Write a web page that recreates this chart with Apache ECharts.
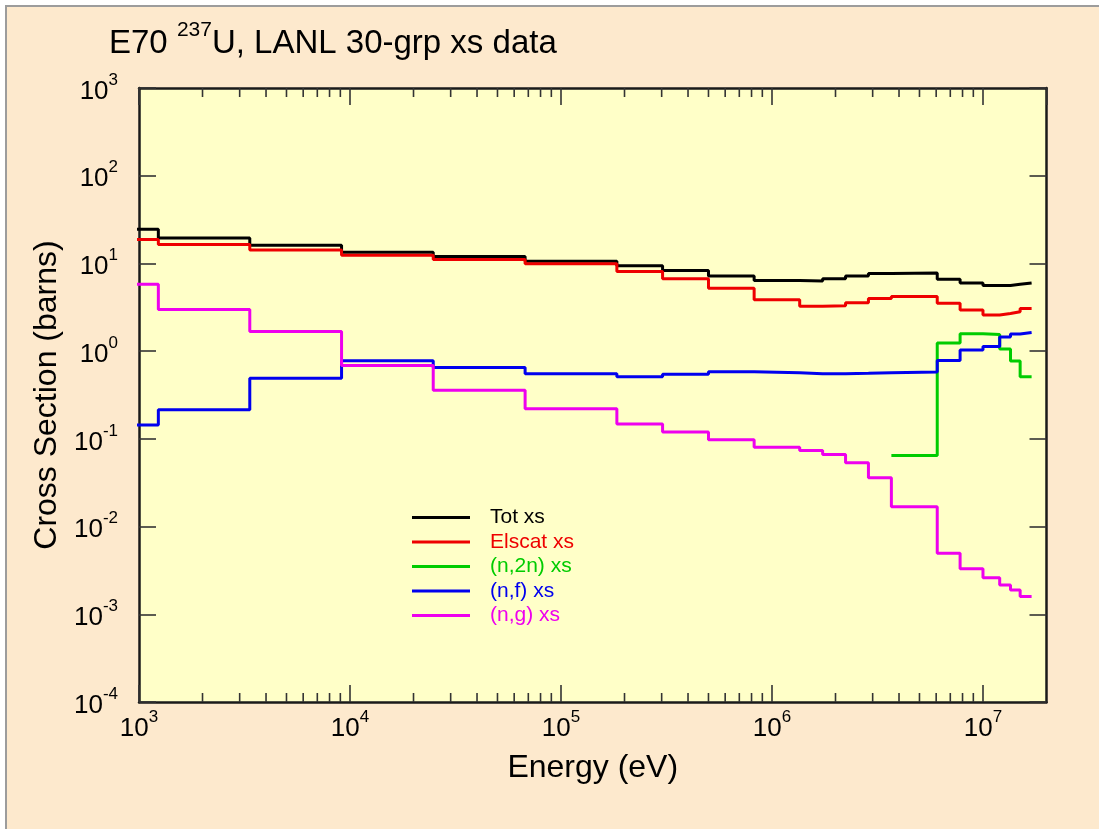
<!DOCTYPE html>
<html>
<head>
<meta charset="utf-8">
<title>E70 237U, LANL 30-grp xs data</title>
<script src="https://cdn.jsdelivr.net/npm/echarts@6/dist/echarts.min.js"></script>
<style>
  html, body { margin: 0; padding: 0; background: #ffffff; }
  #frame {
    position: absolute; left: 5px; top: 5px; right: 0; bottom: 0;
    background: #fde9cd;
    border-left: 2px solid #9c9c9c; border-top: 2px solid #9c9c9c;
  }
  #chart { position: absolute; left: 0; top: 0; width: 1099px; height: 829px; }
</style>
</head>
<body>
<div id="frame"></div>
<div id="chart"></div>
<script>
// LANL 30-group energy boundaries (eV) covering the plotted range, ascending
const groupBounds = [454, 1235, 3350, 9120, 24800, 67600, 184000, 303000, 500000,
  823000, 1353000, 1738000, 2232000, 2865000, 3680000, 6070000, 7790000,
  10000000, 12000000, 13500000, 15000000, 17000000];

// group-averaged cross sections (barns), one value per group above
const totXs = [24.5, 19.5, 16.1, 13.4, 12.0, 10.6, 9.4, 8.3, 7.2, 6.4, 6.3,
  6.7, 7.2, 7.7, 7.8, 6.6, 6.0, 5.6, 5.6, 5.8, 6.0];
const elscatXs = [18.8, 16.4, 14.2, 12.4, 11.1, 9.9, 8.1, 6.7, 5.2, 3.85, 3.26,
  3.3, 3.56, 3.98, 4.2, 3.52, 2.94, 2.58, 2.69, 2.81, 3.07];
const n2nXs = [null, null, null, null, null, null, null, null, null, null, null,
  null, null, null, 0.0646, 1.24, 1.58, 1.55, 1.06, 0.77, 0.51];
const fissionXs = [0.144, 0.215, 0.491, 0.778, 0.653, 0.553, 0.512, 0.544, 0.583,
  0.568, 0.553, 0.553, 0.558, 0.568, 0.577, 0.783, 1.03, 1.13, 1.45, 1.57, 1.63];
const captureXs = [5.78, 2.99, 1.68, 0.688, 0.358, 0.22, 0.148, 0.120, 0.098,
  0.080, 0.0736, 0.0664, 0.0533, 0.036, 0.0168, 0.00495, 0.00331, 0.00261,
  0.00216, 0.00189, 0.00159];

const seriesNames = ['Tot xs', 'Elscat xs', '(n,2n) xs', '(n,f) xs', '(n,g) xs'];
const seriesColors = ['#000000', '#ee0000', '#00cc00', '#0000ee', '#ee00ee'];
const seriesValues = [totXs, elscatXs, n2nXs, fissionXs, captureXs];

// axis ranges
const X_MIN = 1e3, X_MAX = 2e7;
const Y_MIN = 1e-4, Y_MAX = 1e3;

// minor tick positions on the energy axis: 2..9 within each decade
const minorMantissas = [2, 3, 4, 5, 6, 7, 8, 9];
const minorDecades = [1e3, 1e4, 1e5, 1e6, 1e7];

const FONT = '"Liberation Sans", Arial, Helvetica, sans-serif';
const AXIS_COLOR = '#1a1a1a';
const TICK_COLOR = '#333333';

// histogram points: each group starts at its lower bound; the last group
// is closed at its upper bound
function stepPoints(values) {
  const pts = [];
  let last = -1;
  for (let i = 0; i < values.length; i++) {
    if (values[i] == null) continue;
    pts.push([groupBounds[i], values[i]]);
    last = i;
  }
  if (last >= 0) pts.push([groupBounds[last + 1], values[last]]);
  return pts;
}

const minorTicks = [];
minorDecades.forEach(d => minorMantissas.forEach(m => {
  const v = m * d;
  if (v < X_MAX) minorTicks.push([v, Y_MIN]);
}));

function powerLabel(value) {
  const e = Math.round(Math.log10(value));
  if (Math.abs(value - Math.pow(10, e)) > 1e-9 * value) return '';
  return '{b|10}{e|' + (e < 0 ? '-' + (-e) : e) + '}';
}

const labelRich = {
  b: { fontFamily: FONT, fontSize: 26, color: '#000', lineHeight: 33, verticalAlign: 'bottom' },
  e: { fontFamily: FONT, fontSize: 17, color: '#000', lineHeight: 17, verticalAlign: 'top' }
};

const chart = echarts.init(document.getElementById('chart'), null, { renderer: 'canvas' });

const lineSeries = seriesNames.map((name, k) => ({
  name: name,
  type: 'line',
  step: 'end',
  symbol: 'none',
  xAxisIndex: 0,
  yAxisIndex: 0,
  clip: true,
  color: seriesColors[k],
  lineStyle: { color: seriesColors[k], width: 3 },
  data: stepPoints(seriesValues[k]),
  z: 3
}));

const option = {
  animation: false,
  backgroundColor: 'transparent',
  title: {
    text: '{t|E70 }{s|237}{t|U, LANL 30-grp xs data}',
    left: 104,
    top: 15,
    textStyle: {
      fontWeight: 'normal',
      rich: {
        t: { fontFamily: FONT, fontSize: 33, fontWeight: 'normal', color: '#000', lineHeight: 40, verticalAlign: 'bottom' },
        s: { fontFamily: FONT, fontSize: 21, fontWeight: 'normal', color: '#000', lineHeight: 21, verticalAlign: 'top' }
      }
    }
  },
  grid: {
    left: 139, top: 88, right: 52.5, bottom: 127,
    show: true, backgroundColor: '#ffffc8', borderWidth: 0,
    containLabel: false
  },
  legend: {
    orient: 'vertical',
    left: 412,
    top: 507,
    padding: 0,
    icon: 'rect',
    itemWidth: 58,
    itemHeight: 3,
    itemGap: 3.5,
    selectedMode: false,
    textStyle: { fontFamily: FONT, fontSize: 21, lineHeight: 21, padding: [0, 0, 0, 15] },
    data: seriesNames.map((n, k) => ({ name: n, textStyle: { color: seriesColors[k] } }))
  },
  xAxis: [
    {
      type: 'log', logBase: 10, min: X_MIN, max: X_MAX, position: 'bottom',
      name: 'Energy (eV)', nameLocation: 'middle', nameGap: 50,
      nameTextStyle: { fontFamily: FONT, fontSize: 32, color: '#000' },
      axisLine: { show: true, onZero: false, lineStyle: { color: AXIS_COLOR, width: 2.5 } },
      axisTick: { show: true, inside: true, length: 17, lineStyle: { color: TICK_COLOR, width: 1.6 } },
      axisLabel: {
        show: true, margin: 7, formatter: function (v, i) {
          const s = powerLabel(v);
          return (i === 0 && s) ? s.replace('{b|', '{b0|') : s;
        },
        rich: Object.assign({ b0: Object.assign({}, labelRich.b, { padding: [0, 0, 0, 22] }) }, labelRich),
        showMaxLabel: false
      },
      splitLine: { show: false }
    },
    {
      type: 'log', logBase: 10, min: X_MIN, max: X_MAX, position: 'top',
      axisLine: { show: true, onZero: false, lineStyle: { color: AXIS_COLOR, width: 2.5 } },
      axisTick: { show: true, inside: true, length: 17, lineStyle: { color: TICK_COLOR, width: 1.6 } },
      axisLabel: { show: false },
      splitLine: { show: false }
    }
  ],
  yAxis: [
    {
      type: 'log', logBase: 10, min: Y_MIN, max: Y_MAX, position: 'left',
      name: 'Cross Section (barns)', nameLocation: 'middle', nameGap: 68,
      nameTextStyle: { fontFamily: FONT, fontSize: 32, color: '#000' },
      axisLine: { show: true, onZero: false, lineStyle: { color: AXIS_COLOR, width: 2.5 } },
      axisTick: { show: true, inside: true, length: 17, lineStyle: { color: TICK_COLOR, width: 1.6 } },
      axisLabel: { show: true, margin: 21, formatter: powerLabel, rich: labelRich },
      splitLine: { show: false }
    },
    {
      type: 'log', logBase: 10, min: Y_MIN, max: Y_MAX, position: 'right',
      axisLine: { show: true, onZero: false, lineStyle: { color: AXIS_COLOR, width: 2.5 } },
      axisTick: { show: true, inside: true, length: 17, lineStyle: { color: TICK_COLOR, width: 1.6 } },
      axisLabel: { show: false },
      splitLine: { show: false }
    }
  ],
  series: lineSeries.concat([{
    name: 'minor ticks',
    type: 'custom',
    xAxisIndex: 0,
    yAxisIndex: 0,
    silent: true,
    clip: false,
    z: 4,
    data: minorTicks,
    encode: { x: 0, y: 1 },
    renderItem: function (params, api) {
      const x = api.value(0);
      const pb = api.coord([x, Y_MIN]);
      const pt = api.coord([x, Y_MAX]);
      const style = { stroke: TICK_COLOR, lineWidth: 1.6 };
      return {
        type: 'group',
        children: [
          { type: 'line', shape: { x1: pb[0], y1: pb[1], x2: pb[0], y2: pb[1] - 9 }, style: style },
          { type: 'line', shape: { x1: pt[0], y1: pt[1], x2: pt[0], y2: pt[1] + 9 }, style: style }
        ]
      };
    }
  }])
};

chart.setOption(option);
</script>
</body>
</html>
